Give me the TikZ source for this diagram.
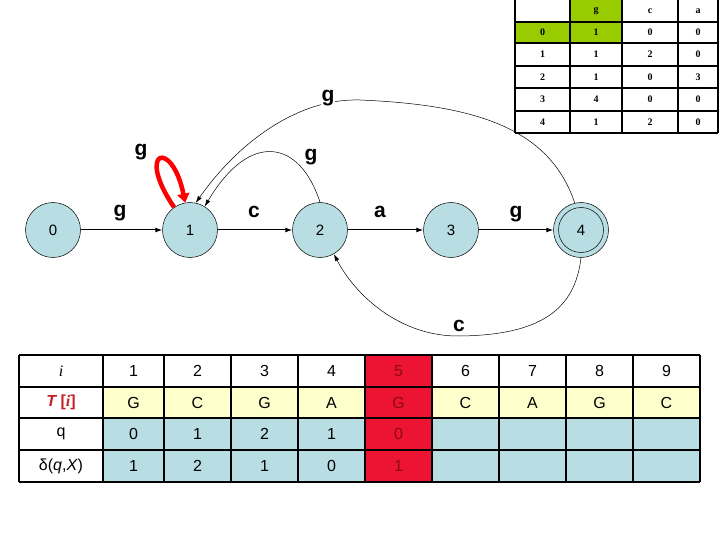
\documentclass[tikz,border=0pt]{standalone}
\usepackage{fontspec}
\setmainfont{Liberation Sans}
\newfontfamily\tmsfont{Liberation Serif}
\usetikzlibrary{arrows.meta}
\definecolor{stateblue}{RGB}{184,221,226}
\definecolor{cellblue}{RGB}{184,221,226}
\definecolor{cellyellow}{RGB}{255,255,204}
\definecolor{cellred}{RGB}{236,20,50}
\definecolor{celltxtred}{RGB}{140,10,20}
\definecolor{cellgreen}{RGB}{153,204,0}
\definecolor{tred}{RGB}{200,30,40}
\tikzset{
 state/.style={circle,draw,line width=0.5pt,fill=stateblue,minimum size=55pt,inner sep=0pt,font=\fontsize{15}{15}\selectfont},
 elabel/.style={font=\bfseries\fontsize{21}{21}\selectfont,anchor=base,inner sep=1pt},
 trans/.style={line width=1pt,-{Latex[length=7pt,width=5pt]}},
 backarc/.style={line width=0.5pt,-{Latex[length=7pt,width=4.5pt]}},
 loopedge/.style={line width=4.5pt,red,-{Triangle[length=9pt,width=12pt]}},
 bcell/.style={font=\fontsize{16}{16}\selectfont,inner sep=0pt},
 tcell/.style={font=\tmsfont\bfseries\fontsize{10}{10}\selectfont,inner sep=0pt},
 gridline/.style={line width=2pt},
 tgridline/.style={line width=1.6pt}
}
\begin{document}
\begin{tikzpicture}[x=1pt,y=-1pt]
\useasboundingbox[fill=white] (0,0) rectangle (720,540);
% states
\node[state] (n0) at (53,230) {0};
\node[state] (n1) at (190,230) {1};
\node[state] (n2) at (320,230) {2};
\node[state] (n3) at (451,230) {3};
\node[state] (n4) at (581,230) {4};
\draw[line width=0.5pt] (n4.center) circle (22.5);
% forward transitions
\draw[trans] (n0) -- (n1);
\draw[trans] (n1) -- (n2);
\draw[trans] (n2) -- (n3);
\draw[trans] (n3) -- (n4);
\node[elabel] (l01) at (120,217) {g};
\node[elabel] (l12) at (254,218) {c};
\node[elabel] (l23) at (380,218) {a};
\node[elabel] (l34) at (516,218) {g};
% self loop
\draw[loopedge] (n1.125) .. controls (135,150) and (172,138) .. (n1.100);
\node[elabel] (l11) at (141,156) {g};
% back arcs
\draw[backarc] (n2.north) .. controls (300,140) and (250,130) .. (n1.58);
\node[elabel] (l21) at (311,161) {g};
\draw[backarc] (n4.103) .. controls (550,130) and (480,105) .. (360,100) .. controls (300,98) and (240,140) .. (n1.78);
\node[elabel,fill=white] (l41) at (328,102) {g};
\draw[backarc] (n4.south) .. controls (575,310) and (540,335) .. (460,336) .. controls (400,337) and (355,295) .. (n2.-60);
\node[elabel,fill=white] (l42) at (459,331) {c};
% top table
\fill[white] (515,-2) rectangle (718,133);
\fill[cellgreen] (570,-2) rectangle (622,22);
\fill[cellgreen] (515,22) rectangle (622,43);
\foreach \y in {22,43,66,88,111,133} \draw[tgridline] (515,\y) -- (718,\y);
\foreach \x in {515,570,622,678,718} \draw[tgridline] (\x,-2) -- (\x,133);
\node[tcell] (hg) at (596,11) {g};
\node[tcell] (hc) at (650,11) {c};
\node[tcell] (ha) at (698,11) {a};
\foreach \s/\g/\c/\a/\y in {0/1/0/0/32.5,1/1/2/0/54.5,2/1/0/3/77,3/4/0/0/99.5,4/1/2/0/122}{
  \node[tcell] (ts\s) at (542.5,\y) {\s};
  \node[tcell] (tg\s) at (596,\y) {\g};
  \node[tcell] (tc\s) at (650,\y) {\c};
  \node[tcell] (ta\s) at (698,\y) {\a};
}
% bottom table
\fill[cellyellow] (103,387) rectangle (700,418);
\fill[cellblue] (103,418) rectangle (700,482);
\fill[cellred] (365,355) rectangle (432,482);
\foreach \y in {355,387,418,450,482} \draw[gridline] (19,\y) -- (700,\y);
\foreach \x in {19,103,164,231,298,365,432,499,566,633,700} \draw[gridline] (\x,355) -- (\x,482);
\node[bcell] (ri) at (61,371) {\tmsfont\itshape i};
\node[bcell,text=tred] (rt) at (61,402.5) {\bfseries\itshape T\upshape\ [\tmsfont\itshape i\normalfont\bfseries]};
\node[bcell] (rq) at (61,434) {q};
\node[bcell] (rd) at (61,466) {δ(\textit{q},\textit{X})};
\foreach \x/\v/\t in {133.5/1/G,197.5/2/C,264.5/3/G,331.5/4/A,465.5/6/C,532.5/7/A,599.5/8/G,666.5/9/C}{
  \node[bcell] (i\v) at (\x,371) {\v};
  \node[bcell] (t\v) at (\x,402.5) {\t};
}
\foreach \x/\q/\d [count=\k] in {133.5/0/1,197.5/1/2,264.5/2/1,331.5/1/0}{
  \node[bcell] (q\k) at (\x,434) {\q};
  \node[bcell] (d\k) at (\x,466) {\d};
}
\node[bcell,text=celltxtred] (i5) at (398.5,371) {5};
\node[bcell,text=celltxtred] (t5) at (398.5,402.5) {G};
\node[bcell,text=celltxtred] (q5) at (398.5,434) {0};
\node[bcell,text=celltxtred] (d5) at (398.5,466) {1};
\end{tikzpicture}
\end{document}
